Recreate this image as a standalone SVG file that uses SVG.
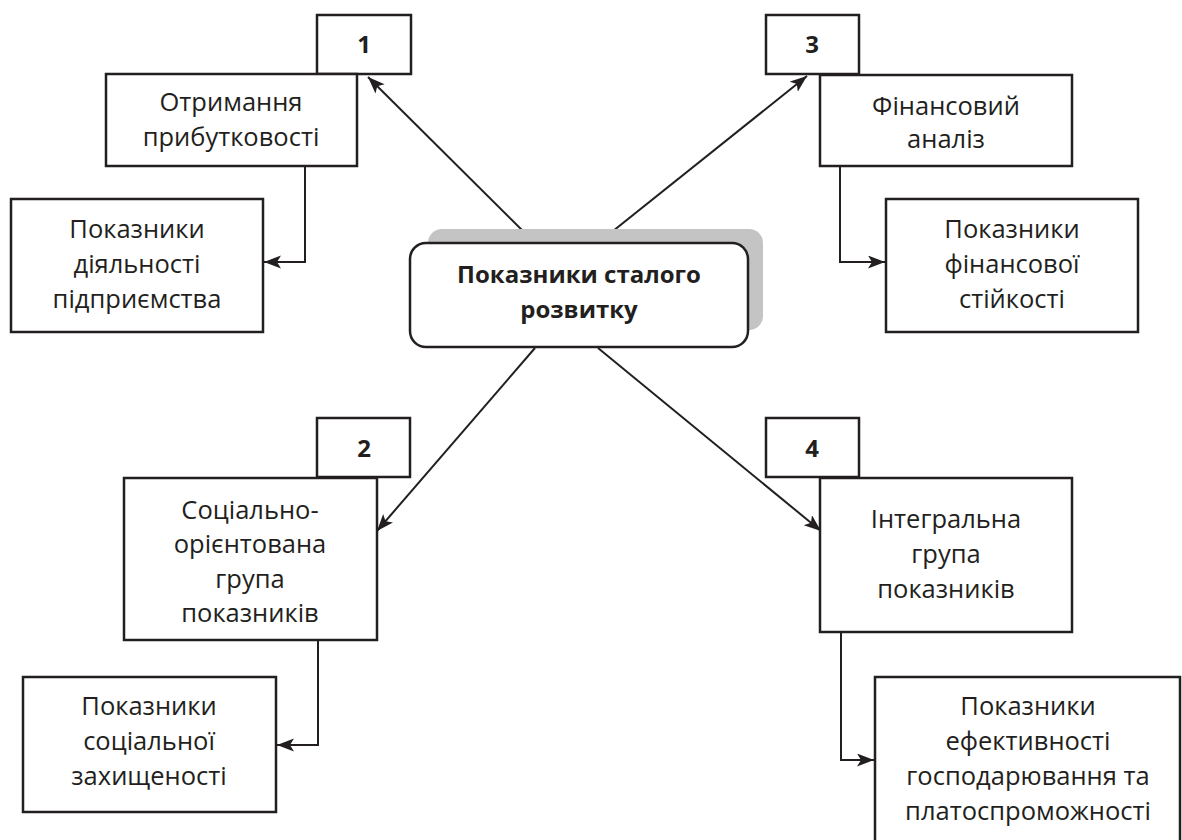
<svg xmlns="http://www.w3.org/2000/svg" width="1182" height="840" viewBox="0 0 1182 840">
<defs>
<style>
.box{fill:#fff;stroke:#231f20;stroke-width:2.5}
.t{font-family:"Open Sans","Liberation Sans",sans-serif;font-size:25.5px;fill:#231f20;text-anchor:middle}
.b{font-weight:bold;font-size:24px}
.c{fill:none;stroke:#231f20;stroke-width:2}
</style>
<marker id="ah" markerUnits="userSpaceOnUse" markerWidth="20" markerHeight="14" refX="17" refY="6.5" orient="auto">
<path d="M0,0 L17,6.5 L0,13 L4,6.5 z" fill="#231f20"/>
</marker>
</defs>
<rect width="1182" height="840" fill="#fff"/>
<g id="connectors">
<line class="c" x1="535" y1="243" x2="368" y2="77" marker-end="url(#ah)"/>
<line class="c" x1="598" y1="243" x2="807" y2="76" marker-end="url(#ah)"/>
<line class="c" x1="535" y1="348" x2="377" y2="531" marker-end="url(#ah)"/>
<line class="c" x1="598" y1="348" x2="821" y2="531" marker-end="url(#ah)"/>
<path class="c" d="M305,166 V262 H264" marker-end="url(#ah)"/>
<path class="c" d="M840,166 V262 H885" marker-end="url(#ah)"/>
<path class="c" d="M318,640 V745 H277" marker-end="url(#ah)"/>
<path class="c" d="M841,632 V760 H874" marker-end="url(#ah)"/>
</g>
<g id="center">
<rect x="428" y="229" width="335" height="101" rx="14" fill="#c4c4c4"/>
<rect class="box" x="410" y="243" width="338" height="104" rx="16"/>
<text class="t b" x="579" y="283">Показники сталого</text>
<text class="t b" x="579" y="318">розвитку</text>
</g>
<g id="n1">
<rect class="box" x="317" y="15" width="94" height="59"/>
<text class="t b" x="364" y="53">1</text>
</g>
<g id="n3">
<rect class="box" x="766" y="15" width="93" height="59"/>
<text class="t b" x="812" y="53">3</text>
</g>
<g id="n2">
<rect class="box" x="317" y="418" width="93" height="59"/>
<text class="t b" x="364" y="457">2</text>
</g>
<g id="n4">
<rect class="box" x="766" y="418" width="93" height="59"/>
<text class="t b" x="812" y="457">4</text>
</g>
<g id="otrymannya">
<rect class="box" x="106" y="74" width="251" height="92"/>
<text class="t" x="231" y="111">Отримання</text>
<text class="t" x="231" y="146">прибутковості</text>
</g>
<g id="diyalnosti">
<rect class="box" x="11" y="199" width="252" height="133"/>
<text class="t" x="137" y="238">Показники</text>
<text class="t" x="137" y="273">діяльності</text>
<text class="t" x="137" y="308">підприємства</text>
</g>
<g id="finansovyi">
<rect class="box" x="820" y="75" width="252" height="91"/>
<text class="t" x="946" y="115">Фінансовий</text>
<text class="t" x="946" y="148">аналіз</text>
</g>
<g id="stiikosti">
<rect class="box" x="886" y="199" width="252" height="133"/>
<text class="t" x="1012" y="238">Показники</text>
<text class="t" x="1012" y="273">фінансової</text>
<text class="t" x="1012" y="308">стійкості</text>
</g>
<g id="sotsialno">
<rect class="box" x="124" y="478" width="253" height="162"/>
<text class="t" x="250" y="519">Соціально-</text>
<text class="t" x="250" y="553">орієнтована</text>
<text class="t" x="250" y="588">група</text>
<text class="t" x="250" y="622">показників</text>
</g>
<g id="zakhyshchenosti">
<rect class="box" x="23" y="677" width="253" height="135"/>
<text class="t" x="149" y="715">Показники</text>
<text class="t" x="149" y="750">соціальної</text>
<text class="t" x="149" y="785">захищеності</text>
</g>
<g id="integralna">
<rect class="box" x="820" y="478" width="252" height="154"/>
<text class="t" x="946" y="528">Інтегральна</text>
<text class="t" x="946" y="563">група</text>
<text class="t" x="946" y="598">показників</text>
</g>
<g id="efektyvnosti">
<rect class="box" x="875" y="677" width="305" height="175"/>
<text class="t" x="1028" y="715">Показники</text>
<text class="t" x="1028" y="750">ефективності</text>
<text class="t" x="1028" y="785">господарювання та</text>
<text class="t" x="1028" y="820">платоспроможності</text>
</g>
</svg>
